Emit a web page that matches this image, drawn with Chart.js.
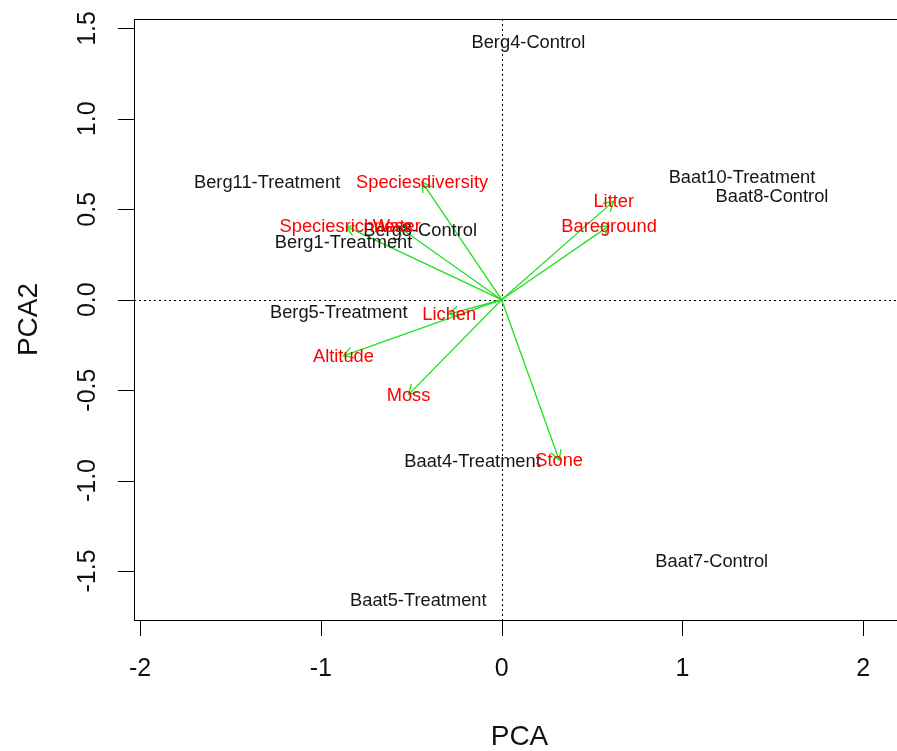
<!DOCTYPE html>
<html>
<head>
<meta charset="utf-8">
<script src="https://cdn.jsdelivr.net/npm/chart.js@4/dist/chart.umd.min.js"></script>
<style>
  html, body { margin: 0; padding: 0; background: #fff; overflow: hidden; }
  #wrap { width: 905px; height: 751px; }
</style>
</head>
<body>
<div id="wrap"><canvas id="c" width="905" height="751"></canvas></div>
<script>
// Site scores (PCA axis 1 / axis 2)
const sampleNames = ['Berg4-Control', 'Berg11-Treatment', 'Berg8-Control', 'Berg1-Treatment', 'Berg5-Treatment',
                     'Baat4-Treatment', 'Baat5-Treatment', 'Baat7-Control', 'Baat10-Treatment', 'Baat8-Control'];
const sampleX = [0.148, -1.297, -0.451, -0.874, -0.901, -0.161, -0.461, 1.162, 1.329, 1.495];
const sampleY = [1.418, 0.644, 0.380, 0.314, -0.075, -0.896, -1.664, -1.449, 0.673, 0.568];

// Environmental variable loadings
const varNames = ['Speciesdiversity', 'Speciesrichness', 'Water', 'Litter', 'Bareground', 'Lichen', 'Altitude', 'Moss', 'Stone'];
const varX = [-0.44, -0.86, -0.58, 0.62, 0.594, -0.29, -0.875, -0.515, 0.318];
const varY = [0.65, 0.405, 0.41, 0.545, 0.408, -0.08, -0.31, -0.525, -0.886];

// Axis ticks
const xTicks = [-2, -1, 0, 1, 2];
const xTickLabels = ['-2', '-1', '0', '1', '2'];
const yTicks = [-1.5, -1.0, -0.5, 0, 0.5, 1.0, 1.5];
const yTickLabels = ['-1.5', '-1.0', '-0.5', '0.0', '0.5', '1.0', '1.5'];

const FONT = "'Liberation Sans', Arial, sans-serif";
const ARROW_COLOR = '#1ee01e';

const datasets = [{
  label: 'sites',
  data: sampleX.map((x, i) => ({ x, y: sampleY[i] })),
  pointRadius: 0,
  showLine: false
}];
varNames.forEach((name, i) => {
  datasets.push({
    label: name,
    data: [{ x: 0, y: 0 }, { x: varX[i], y: varY[i] }],
    showLine: true,
    borderColor: ARROW_COLOR,
    borderWidth: 1.3,
    pointRadius: 0,
    fill: false
  });
});

const biplotDecor = {
  id: 'biplotDecor',
  beforeDatasetsDraw(chart) {
    const ctx = chart.ctx, a = chart.chartArea;
    const xs = chart.scales.x, ys = chart.scales.y;
    ctx.save();
    ctx.strokeStyle = '#000';
    ctx.lineWidth = 1;
    ctx.setLineDash([2, 3]);
    const x0 = Math.round(xs.getPixelForValue(0)) + 0.5;
    const y0 = Math.round(ys.getPixelForValue(0)) + 0.5;
    ctx.beginPath();
    ctx.moveTo(x0, a.top); ctx.lineTo(x0, a.bottom);
    ctx.moveTo(a.left, y0); ctx.lineTo(a.right, y0);
    ctx.stroke();
    ctx.restore();
  },
  afterDatasetsDraw(chart) {
    const ctx = chart.ctx, a = chart.chartArea;
    const xs = chart.scales.x, ys = chart.scales.y;
    ctx.save();

    // arrowheads
    ctx.strokeStyle = ARROW_COLOR;
    ctx.lineWidth = 1.3;
    const headLen = 11, headAng = Math.PI / 6;
    varNames.forEach((n, i) => {
      const px = xs.getPixelForValue(varX[i]), py = ys.getPixelForValue(varY[i]);
      const ox = xs.getPixelForValue(0), oy = ys.getPixelForValue(0);
      const ang = Math.atan2(py - oy, px - ox);
      ctx.beginPath();
      ctx.moveTo(px - headLen * Math.cos(ang - headAng), py - headLen * Math.sin(ang - headAng));
      ctx.lineTo(px, py);
      ctx.lineTo(px - headLen * Math.cos(ang + headAng), py - headLen * Math.sin(ang + headAng));
      ctx.stroke();
    });

    // site labels
    ctx.font = '18.3px ' + FONT;
    ctx.textAlign = 'center';
    ctx.textBaseline = 'middle';
    ctx.fillStyle = '#161616';
    sampleNames.forEach((n, i) => {
      ctx.fillText(n, xs.getPixelForValue(sampleX[i]), ys.getPixelForValue(sampleY[i]));
    });

    // variable labels
    ctx.fillStyle = '#ff0000';
    varNames.forEach((n, i) => {
      ctx.fillText(n, xs.getPixelForValue(varX[i]), ys.getPixelForValue(varY[i]) + 1);
    });

    // plot box
    ctx.strokeStyle = '#000';
    ctx.lineWidth = 1;
    ctx.strokeRect(a.left + 0.5, a.top + 0.5, a.right - a.left, a.bottom - a.top);

    // x axis ticks
    ctx.beginPath();
    xTicks.forEach(v => {
      const px = Math.round(xs.getPixelForValue(v)) + 0.5;
      ctx.moveTo(px, a.bottom + 0.5);
      ctx.lineTo(px, a.bottom + 16);
    });
    // y axis ticks
    yTicks.forEach(v => {
      const py = Math.round(ys.getPixelForValue(v)) + 0.5;
      ctx.moveTo(a.left + 0.5, py);
      ctx.lineTo(a.left - 16, py);
    });
    ctx.stroke();

    // tick labels
    ctx.fillStyle = '#111';
    ctx.font = '25px ' + FONT;
    ctx.textAlign = 'center';
    ctx.textBaseline = 'middle';
    xTicks.forEach((v, i) => {
      ctx.fillText(xTickLabels[i], xs.getPixelForValue(v), 669);
    });
    yTicks.forEach((v, i) => {
      ctx.save();
      ctx.translate(88, ys.getPixelForValue(v));
      ctx.rotate(-Math.PI / 2);
      ctx.fillText(yTickLabels[i], 0, 0);
      ctx.restore();
    });

    // axis titles
    ctx.font = '28px ' + FONT;
    ctx.fillText('PCA', (a.left + a.right) / 2, 737);
    ctx.save();
    ctx.translate(29, (a.top + a.bottom) / 2);
    ctx.rotate(-Math.PI / 2);
    ctx.fillText('PCA2', 0, 0);
    ctx.restore();

    ctx.restore();
  }
};

new Chart(document.getElementById('c'), {
  type: 'scatter',
  data: { datasets },
  options: {
    responsive: false,
    animation: false,
    devicePixelRatio: 1,
    layout: { padding: { left: 134, top: 19, right: 0, bottom: 131 } },
    plugins: { legend: { display: false }, tooltip: { enabled: false } },
    scales: {
      x: { type: 'linear', min: -2.0332, max: 2.2306, display: false },
      y: { type: 'linear', min: -1.771, max: 1.552, display: false }
    }
  },
  plugins: [biplotDecor]
});
</script>
</body>
</html>
